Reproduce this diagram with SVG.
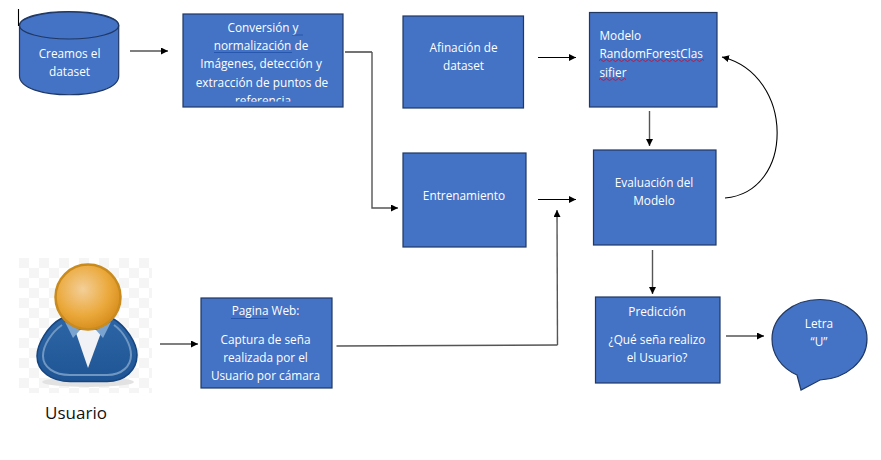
<svg xmlns="http://www.w3.org/2000/svg" width="881" height="460" viewBox="0 0 881 460">
<style>
.n{fill:#4472c4;stroke:#1f3864;stroke-width:1.2}
.t{font-family:"Open Sans","Noto Sans",sans-serif;font-size:11.8px;fill:#fff;text-anchor:middle}
.l{text-anchor:start}
.c{fill:none;stroke:#000;stroke-width:1.1}
.g{fill:none;stroke:#555;stroke-width:1.4}
</style>
<defs>
<marker id="a" markerWidth="9" markerHeight="8" refX="7" refY="3.5" orient="auto" markerUnits="userSpaceOnUse"><path d="M0 0L7 3.500L0 7z" fill="#000"/></marker>
<clipPath id="cl"><rect x="183" y="14" width="160" height="87.500"/></clipPath>
<radialGradient id="h" cx="0.42" cy="0.38" r="0.62"><stop offset="0" stop-color="#f3cf98"/><stop offset="0.65" stop-color="#eba93c"/><stop offset="1" stop-color="#d8901f"/></radialGradient>
<linearGradient id="b" x1="0" y1="0" x2="0" y2="1"><stop offset="0" stop-color="#2c65a6"/><stop offset="1" stop-color="#1f5594"/></linearGradient>
<pattern id="ck" width="20" height="20" patternUnits="userSpaceOnUse" x="19" y="258"><rect width="20" height="20" fill="#fff"/><rect width="10" height="10" fill="#f5f5f5"/><rect x="10" y="10" width="10" height="10" fill="#f5f5f5"/></pattern>
</defs>
<rect width="881" height="460" fill="#fff"/>
<g id="connectors">
<path class="c" d="M18.500 9V26"/>
<path class="c" marker-end="url(#a)" d="M130 51H168"/>
<path class="c" d="M345 52H372"/>
<path class="g" marker-end="url(#a)" d="M372 52V208H398"/>
<path class="c" marker-end="url(#a)" d="M538 57.500H576"/>
<path class="c" marker-end="url(#a)" d="M538 199.500H576"/>
<path class="g" stroke-width="1.100" marker-end="url(#a)" d="M649.500 111V146"/>
<path class="c" marker-end="url(#a)" d="M725 198C795 192 795 75 722 57"/>
<path class="g" stroke-width="1.100" marker-end="url(#a)" d="M652.500 250V294"/>
<path class="c" marker-end="url(#a)" d="M160 344H198"/>
<path class="g" d="M336.500 346L557.500 345"/>
<path class="g" stroke-width="1.100" marker-end="url(#a)" d="M557.500 345L557 210"/>
<path class="c" marker-end="url(#a)" d="M726 336H764"/>
</g>
<g id="dataset">
<path class="n" d="M19.500 25.500C19.500 7 118.700 7 118.700 25.500V76C118.700 101 19.500 101 19.500 76z"/>
<ellipse class="n" cx="69.100" cy="25.500" rx="49.600" ry="13.500"/>
<text class="t" x="69.500" y="58">Creamos el</text><text class="t" x="69.500" y="75.500">dataset</text>
</g>
<g id="conversion">
<rect class="n" x="183" y="14" width="160" height="93"/>
<g clip-path="url(#cl)"><text class="t" x="263" y="32">Conversión y</text><text class="t" x="261" y="50">normalización de</text><text class="t" x="261" y="68">Imágenes, detección y</text><text class="t" x="262" y="86.500">extracción de puntos de</text><text class="t" x="263" y="105">referencia</text></g>
<path d="M214 52.500H292M292 35H303" stroke="#1f4fa8" fill="none" stroke-width="0.8"/>
</g>
<g id="afinacion"><rect class="n" x="403" y="16" width="120.500" height="92"/><text class="t" x="463.500" y="52">Afinación de</text><text class="t" x="463.500" y="69.500">dataset</text></g>
<g id="modelo"><rect class="n" x="589.500" y="12.500" width="127.500" height="94.500"/><text class="t l" x="599.500" y="39.500">Modelo</text><text class="t l" x="599.500" y="58">RandomForestClas</text><text class="t l" x="599.500" y="77">sifier</text>
<path d="M599 60.500q1.500-2 3 0t3 0 3 0 3 0 3 0 3 0 3 0 3 0 3 0 3 0 3 0 3 0 3 0 3 0 3 0 3 0 3 0 3 0 3 0 3 0 3 0 3 0 3 0 3 0 3 0 3 0 3 0 3 0 3 0 3 0 3 0 3 0 3 0 3 0 3 0M599 79.500q1.500-2 3 0t3 0 3 0 3 0 3 0 3 0 3 0 3 0 3 0" fill="none" stroke="#c0143c" stroke-width="0.9"/></g>
<g id="entrenamiento"><rect class="n" x="403" y="153" width="123" height="94"/><text class="t" x="464" y="199.500">Entrenamiento</text></g>
<g id="evaluacion"><rect class="n" x="593.500" y="150" width="122.500" height="95"/><text class="t" x="654" y="187">Evaluación del</text><text class="t" x="654" y="205">Modelo</text></g>
<g id="usuario">
<rect x="19" y="258" width="133" height="135" fill="url(#ck)"/>
<ellipse cx="88" cy="382" rx="46" ry="5" fill="#e2e2e2"/>
<path d="M62 318C47 326 37 345 37 356C37 372 52 381.500 70 381.500H107C125 381.500 137 370 137 355C137 343 126 326 112 318L88 330z" fill="url(#b)" stroke="#17457f" stroke-width="1.500"/>
<path d="M62 325C52 332 43 345 43 356C43 367 54 375 70 375H107C122 375 131 366 131 355C131 345 124 332 114 325" fill="none" stroke="#6f97c2" stroke-width="2"/>
<path d="M75 330L88 368L102 330z" fill="#f0f2f5"/>
<path d="M65 322L73 338L80 330zM111 322L103 338L96 330z" fill="#7ba3cf"/>
<circle cx="88" cy="297" r="32.500" fill="url(#h)" stroke="#c98a1e" stroke-width="2.500"/>
<text x="76" y="419" font-family="Open Sans,Noto Sans,sans-serif" font-size="17" fill="#111" text-anchor="middle">Usuario</text>
</g>
<g id="web"><rect class="n" x="201" y="298" width="131" height="90"/><text class="t" x="265.500" y="315">Pagina Web:</text><text class="t" x="265.500" y="343.500">Captura de seña</text><text class="t" x="265.500" y="361.500">realizada por el</text><text class="t" x="265.500" y="379.500">Usuario por cámara</text>
<path d="M231 318.500H268" stroke="#1f4fa8" fill="none" stroke-width="0.8"/></g>
<g id="prediccion"><rect class="n" x="595.500" y="297" width="124.500" height="86"/><text class="t" x="657" y="316">Predicción</text><text class="t" x="657" y="344">¿Qué seña realizo</text><text class="t" x="657" y="362">el Usuario?</text></g>
<g id="letra"><path class="n" d="M797 375C781 368 772 354 772 339C772 317 793 299.500 820 299.500C846 299.500 867 317 867 339C867 361 846 379 820 380L801 390z"/><text class="t" x="819" y="328">Letra</text><text class="t" x="819" y="346">“U”</text></g>
</svg>
